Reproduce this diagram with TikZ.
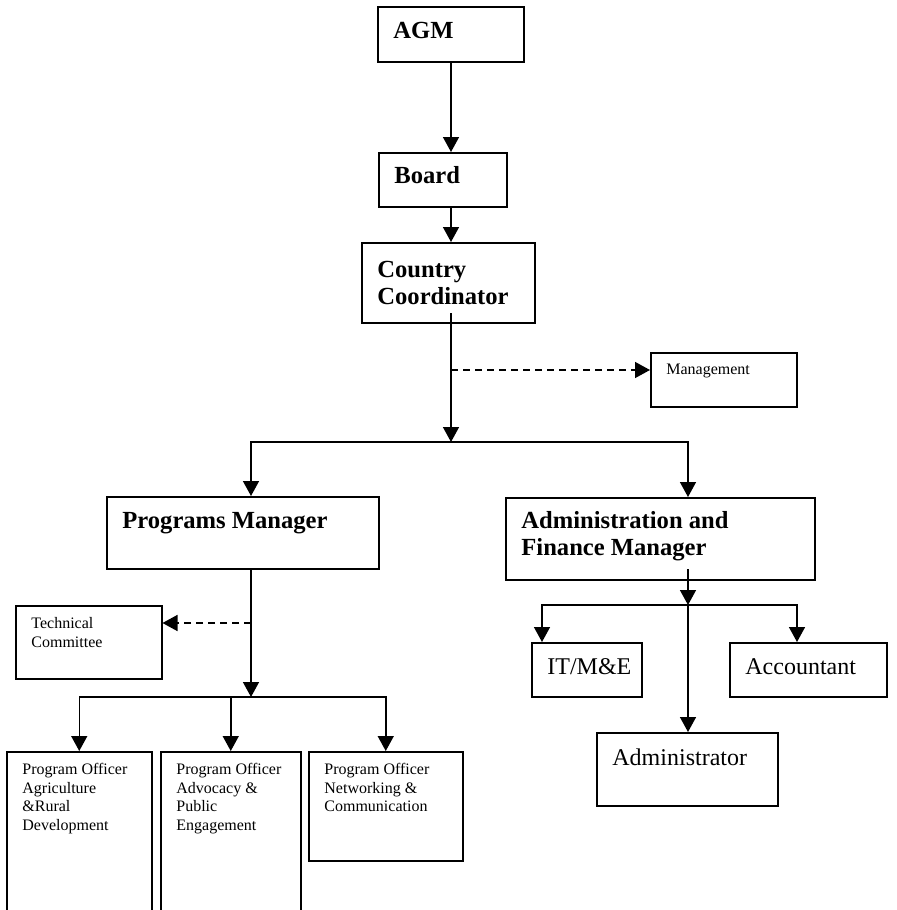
\documentclass[tikz,border=0pt]{standalone}
\usepackage{fontspec}
\setmainfont{Liberation Serif}
\usepackage{tikz}
\usetikzlibrary{arrows.meta,positioning}

\begin{document}
\begin{tikzpicture}[x=0.5pt, y=-0.5pt]
        % Define styles
        \tikzset{
            box/.style={rectangle, draw, line width=0.75pt, anchor=north west, inner sep=0pt},
            tag/.style={anchor=north west, inner sep=0pt, align=left, xshift=8pt, yshift=-7pt},
            headtext/.style={tag, font=\fontsize{12.3}{13.6}\selectfont\bfseries},
            head/.style={box, label={[headtext]north west:#1}},
            post/.style={box, label={[tag, font=\fontsize{12}{14}\selectfont, yshift=-1pt]north west:#1}},
            note/.style={box, label={[tag, font=\fontsize{8}{9.3}\selectfont, yshift=1pt]north west:#1}},
            arrow/.style={line width=0.75pt, -{Triangle[length=7.5pt, width=8pt]}},
            link/.style={arrow, dash pattern=on 3.5pt off 2.5pt}
        }
        \useasboundingbox (0,0) rectangle (896,910);
        \clip (0,0) rectangle (896,910);

        % Create nodes
        \node [box, label={[headtext, yshift=-1pt]north west:AGM}, minimum width=73pt, minimum height=27.5pt] (agm) at (377,6) {};
        \node [head={Board}, minimum width=64pt, minimum height=27pt] (board) at (378,152) {};
        \node [box, label={[headtext, yshift=-2.5pt]north west:Country\\Coordinator}, minimum width=86.5pt, minimum height=40pt] (country) at (361,242) {};
        \node [note={Management}, minimum width=73pt, minimum height=27pt] (mgmt) at (650,352) {};
        \node [box, label={[headtext, yshift=-1pt]north west:Programs Manager}, minimum width=136pt, minimum height=36pt] (progmgr) at (106,496) {};
        \node [head={Administration and\\Finance Manager}, minimum width=154.5pt, minimum height=41pt] (adminfin) at (505,497) {};
        \node [note={Technical\\Committee}, minimum width=73pt, minimum height=36.5pt] (techcom) at (15,605) {};
        \node [post={IT/M\&E}, minimum width=55pt, minimum height=27pt] (itme) at (531,642) {};
        \node [post={Accountant}, minimum width=78.5pt, minimum height=27pt] (account) at (729,642) {};
        \node [post={Administrator}, minimum width=90.5pt, minimum height=36.5pt] (admin) at (596,732) {};
        \node [note={Program Officer\\Agriculture\\\&Rural\\Development}, minimum width=72.5pt, minimum height=100pt] (poagri) at (6,751) {};
        \node [note={Program Officer\\Advocacy \&\\Public\\Engagement}, minimum width=70pt, minimum height=100pt] (poadvo) at (160,751) {};
        \node [note={Program Officer\\Networking \&\\Communication}, minimum width=77pt, minimum height=54.5pt] (ponet) at (308,751) {};

        % Junctions
        \coordinate (spine) at (451,0);
        \coordinate (pmline) at (251,0);
        \coordinate (afline) at (688,0);
        \coordinate (itline) at (542,0);
        \coordinate (acline) at (797,0);
        \coordinate (ccstart) at (451,313);
        \coordinate (mgmtfork) at (451,370);
        \coordinate (split) at (451,442);
        \coordinate (tcfork) at (251,623);
        \coordinate (pofork) at (251,697);
        \coordinate (afstart) at (688,569);
        \coordinate (affork) at (688,605);

        % Create arrows
        \draw [arrow] (agm.south -| spine) -- (board.north -| spine);
        \draw [arrow] (board.south -| spine) -- (country.north -| spine);
        \draw [arrow] (ccstart) -- (split);
        \draw [link] (mgmtfork) -- (mgmt.west |- mgmtfork);
        \draw [arrow] (split) -| (progmgr.north -| pmline);
        \draw [arrow] (split) -| (adminfin.north -| afline);

        \draw [arrow] (progmgr.south -| pmline) -- (pofork);
        \draw [link] (tcfork) -- (techcom.east |- tcfork);
        \draw [arrow] (pofork) -| (poagri.north);
        \draw [arrow] (pofork) -| (poadvo.north);
        \draw [arrow] (pofork) -| (ponet.north);

        \draw [arrow] (afstart) -- (affork);
        \draw [arrow] (affork) -- (admin.north -| afline);
        \draw [arrow] (affork) -| (itme.north -| itline);
        \draw [arrow] (affork) -| (account.north -| acline);
    \end{tikzpicture}
\end{document}
